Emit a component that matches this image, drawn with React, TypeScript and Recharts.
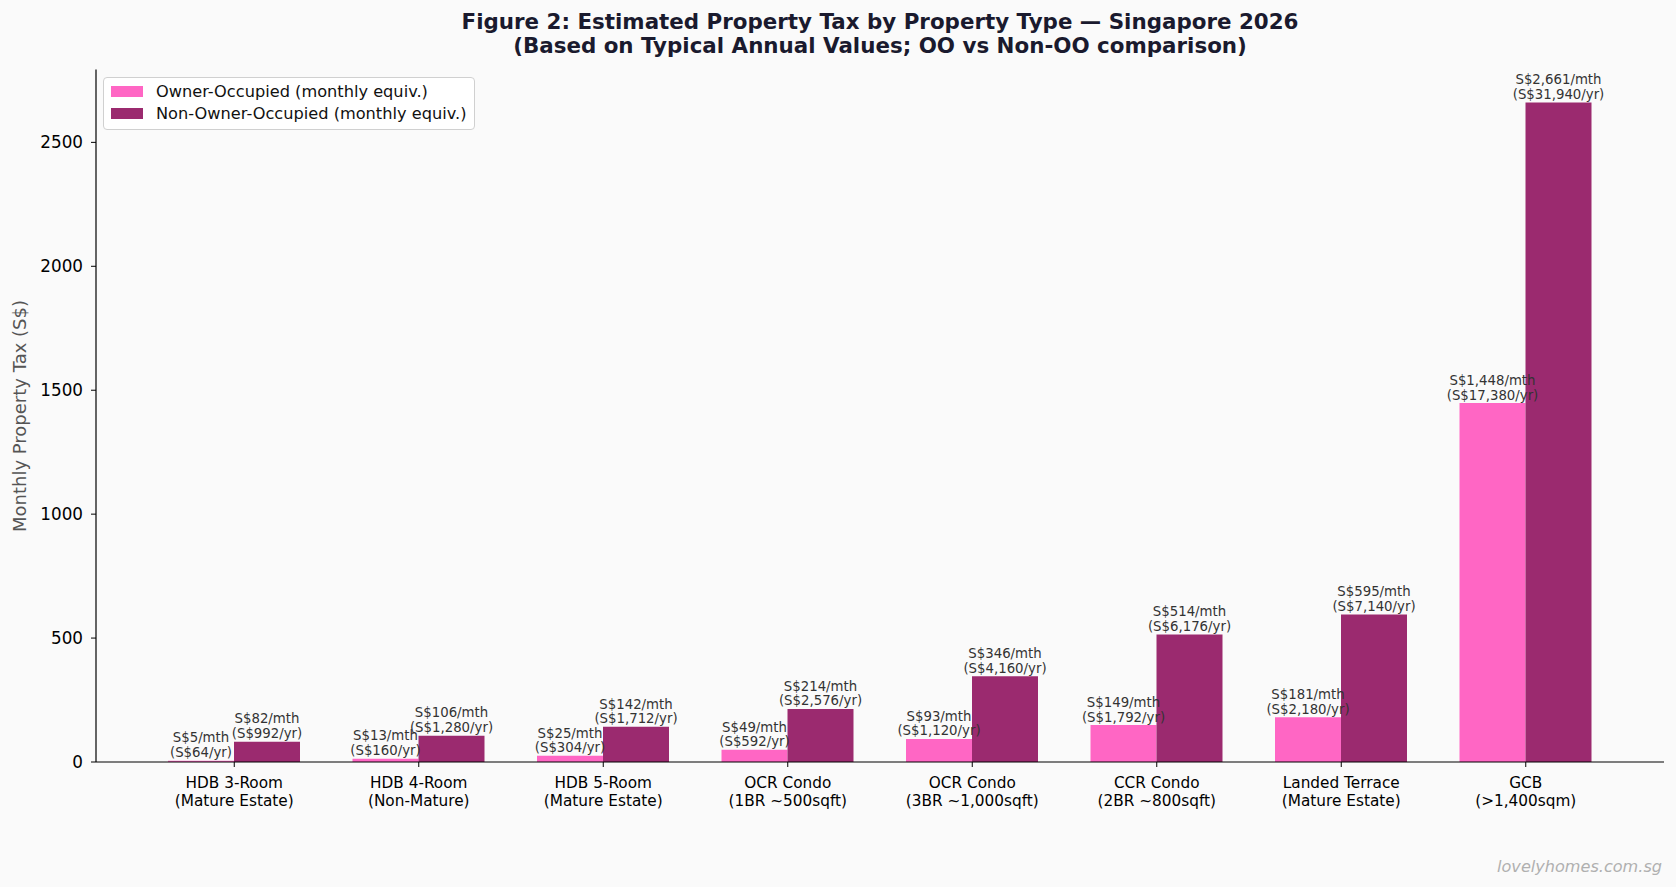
import { BarChart, Bar, XAxis, YAxis, Legend, LabelList } from 'recharts';

const categories = [
  'HDB 3-Room\n(Mature Estate)',
  'HDB 4-Room\n(Non-Mature)',
  'HDB 5-Room\n(Mature Estate)',
  'OCR Condo\n(1BR ~500sqft)',
  'OCR Condo\n(3BR ~1,000sqft)',
  'CCR Condo\n(2BR ~800sqft)',
  'Landed Terrace\n(Mature Estate)',
  'GCB\n(>1,400sqm)',
];
const ownerMonthly = [5, 13, 25, 49, 93, 149, 181, 1448];
const nonOwnerMonthly = [82, 106, 142, 214, 346, 514, 595, 2661];
const ownerAnnual = [64, 160, 304, 592, 1120, 1792, 2180, 17380];
const nonOwnerAnnual = [992, 1280, 1712, 2576, 4160, 6176, 7140, 31940];
const yTicks = [0, 500, 1000, 1500, 2000, 2500];
const seriesNames = ['Owner-Occupied (monthly equiv.)', 'Non-Owner-Occupied (monthly equiv.)'];

const OO_COLOR = '#ff66c4';
const NOO_COLOR = '#9b2a6f';
const FONT = '"DejaVu Sans", sans-serif';

const data = categories.map((name, i) => ({
  name,
  oo: ownerMonthly[i],
  noo: nonOwnerMonthly[i],
}));

const fmt = (n: number) => n.toLocaleString('en-US');

// two-line value label sitting on top of each bar
const makeLabel = (annual: number[]) => (props: any) => {
  const { x, y, width, index, value } = props;
  const cx = Number(x) + Number(width) / 2;
  const base = Number(y) - 3.5;
  return (
    <text textAnchor="middle" fontSize={13.3} fill="#333" fontFamily={FONT}>
      <tspan x={cx} y={base - 14.8}>{`S$${fmt(value)}/mth`}</tspan>
      <tspan x={cx} y={base}>{`(S$${fmt(annual[index])}/yr)`}</tspan>
    </text>
  );
};

function CategoryTick({ x, y, payload }: any) {
  const lines = String(payload.value).split('\n');
  return (
    <text textAnchor="middle" fontSize={15.3} fill="#000" fontFamily={FONT}>
      <tspan x={x} y={y + 19}>{lines[0]}</tspan>
      <tspan x={x} y={y + 36.5}>{lines[1]}</tspan>
    </text>
  );
}

function LegendBox({ payload }: any) {
  const items = [...(payload || [])].sort(
    (a: any, b: any) => seriesNames.indexOf(a.value) - seriesNames.indexOf(b.value)
  );
  return (
    <div
      style={{
        border: '1px solid #d0d0d0',
        borderRadius: 4,
        background: 'rgba(255,255,255,0.85)',
        padding: '2px 8px 4px 7px',
        fontFamily: FONT,
        fontSize: 16.2,
        color: '#111',
      }}
    >
      {items.map((p: any) => (
        <div key={p.value} style={{ display: 'flex', alignItems: 'center', height: 22.6, whiteSpace: 'nowrap' }}>
          <span style={{ display: 'inline-block', width: 32, height: 11, background: p.color, marginRight: 13 }} />
          {p.value}
        </div>
      ))}
    </div>
  );
}

export default function App() {
  return (
    <div style={{ position: 'absolute', left: 0, top: 0, width: 1676, height: 887, background: '#fafafa' }}>
      <BarChart
        width={1676}
        height={887}
        data={data}
        margin={{ top: 69.5, right: 12, bottom: 95, left: 36 }}
        barGap={0}
      >
        <XAxis
          dataKey="name"
          height={30}
          padding={{ left: 46, right: 46 }}
          tick={<CategoryTick />}
          tickSize={5}
          axisLine={{ stroke: '#000', strokeWidth: 1.2 }}
          tickLine={{ stroke: '#000', strokeWidth: 1 }}
          interval={0}
        />
        <YAxis
          width={60}
          domain={[0, 2794]}
          ticks={yTicks}
          tickSize={5}
          tickMargin={8}
          allowDataOverflow
          axisLine={{ stroke: '#000', strokeWidth: 1.2 }}
          tickLine={{ stroke: '#000', strokeWidth: 1 }}
          tick={{ fontSize: 16.8, fill: '#000', fontFamily: FONT }}
        />
        <Legend
          layout="vertical"
          align="center"
          verticalAlign="middle"
          content={<LegendBox />}
          wrapperStyle={{ position: 'absolute', left: 103, top: 77, width: 'auto', height: 'auto' }}
        />
        <Bar dataKey="oo" name={seriesNames[0]} fill={OO_COLOR} barSize={66} isAnimationActive={false}>
          <LabelList dataKey="oo" content={makeLabel(ownerAnnual)} />
        </Bar>
        <Bar dataKey="noo" name={seriesNames[1]} fill={NOO_COLOR} barSize={66} isAnimationActive={false}>
          <LabelList dataKey="noo" content={makeLabel(nonOwnerAnnual)} />
        </Bar>
      </BarChart>
      <svg
        width={1676}
        height={887}
        style={{ position: 'absolute', left: 0, top: 0, pointerEvents: 'none' }}
      >
        <text x={880} textAnchor="middle" fontSize={21.4} fontWeight="bold" fill="#1a1a2e" fontFamily={FONT}>
          <tspan x={880} y={28.5}>Figure 2: Estimated Property Tax by Property Type — Singapore 2026</tspan>
          <tspan x={880} y={53}>(Based on Typical Annual Values; OO vs Non-OO comparison)</tspan>
        </text>
        <text
          x={20}
          y={416}
          dy="0.35em"
          textAnchor="middle"
          fontSize={18}
          fill="#555"
          fontFamily={FONT}
          transform="rotate(-90, 20, 416)"
        >
          Monthly Property Tax (S$)
        </text>
        <text x={1662} y={871.5} textAnchor="end" fontSize={16.1} fontStyle="italic" fill="#b0b0b0" fontFamily={FONT}>
          lovelyhomes.com.sg
        </text>
      </svg>
    </div>
  );
}
